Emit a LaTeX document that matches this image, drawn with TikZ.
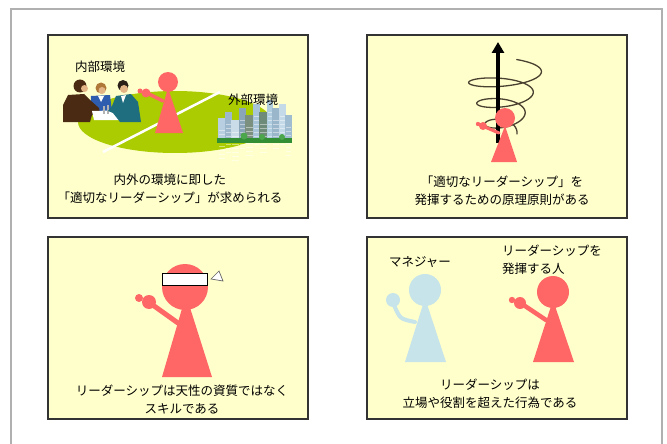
\documentclass[tikz,border=0pt]{standalone}
\usepackage{fontspec}
\setmainfont{Noto Sans CJK JP}
\usetikzlibrary{arrows.meta}

\definecolor{panelbg}{HTML}{FFFFCC}
\definecolor{leader}{HTML}{FF6666}
\definecolor{mgr}{HTML}{C6E4EA}
\definecolor{field}{HTML}{AACC00}
\definecolor{framegray}{HTML}{B0B0B0}
\definecolor{suitbrown}{HTML}{4A2A12}
\definecolor{suitblue}{HTML}{2E5DB0}
\definecolor{suitteal}{HTML}{1E6E80}
\definecolor{skin}{HTML}{E2B486}
\definecolor{hairgold}{HTML}{B07838}
\definecolor{hairdark}{HTML}{2A2018}
\definecolor{spiralc}{HTML}{4A4030}

\tikzset{
  panel/.style={fill=panelbg, draw=black!80, line width=1.1pt},
  txt/.style={inner sep=0pt, font=\fontsize{12.5}{18}\selectfont, align=center},
  lbl/.style={inner sep=0pt, font=\fontsize{12.5}{18}\selectfont},
  arm/.style={line width=#1, line cap=round},
}

\begin{document}
\begin{tikzpicture}[x=1pt, y=-1pt]
\useasboundingbox (0,0) rectangle (667,444);
\fill[white] (0,0) rectangle (667,444);

% outer frame (open at the bottom)
\draw[framegray, line width=1.2pt] (11,444) -- (11,9) -- (662,9) -- (662,444);

% four panels
\draw[panel] (48,35) rectangle (308,218);
\draw[panel] (367,35) rectangle (627,218);
\draw[panel] (48,237) rectangle (308,419);
\draw[panel] (367,237) rectangle (627,419);

% ---------- panel 1: inner and outer environment ----------
\fill[field] (175,122) ellipse [x radius=97, y radius=31];
\draw[white, line width=2.5pt] (103,152) -- (220,92);

% meeting people: woman behind, table, two men
\fill[suitblue] (91,96) -- (110,95) -- (112,112) -- (90,112) -- cycle;
\fill[white] (98,96) -- (104,96) -- (101,102) -- cycle;
\fill[hairgold] (101,88) circle (5.5);
\fill[skin] (102,90.5) circle (3.5);
\fill[suitbrown] (68,95) -- (84,94) -- (90,100) -- (99,108) -- (100,114)
  -- (92,115) -- (90,122) -- (63,122) -- (63,105) -- cycle;
\fill[suitbrown] (80,86) circle (6.5);
\fill[skin] (84.5,88.5) circle (3.5);
\fill[white] (92,111) -- (131,110) -- (132,120) -- (94,120) -- cycle;
\fill[gray!60] (103,106) rectangle (105,114);
\fill[gray!60] (107,105) rectangle (109,114);
\fill[suitteal] (116,96) -- (131,94) -- (138,102) -- (141,122) -- (120,122)
  -- (113,113) -- (108,111) -- (112,106) -- cycle;
\fill[white] (121,96) -- (126,95) -- (123,103) -- cycle;
\fill[hairdark] (123,85.5) circle (5.5);
\fill[skin] (124,89) circle (4);

% city buildings
\foreach \xa/\ya/\xb/\col in {
    218/118/226/B7CFE0, 225/112/232/9DB8CC, 231/120/240/C9DCE8,
    239/108/246/8AA5B8, 245/115/254/7C9080, 253/104/260/A8C4D8,
    259/112/268/6E8A78, 267/100/273/B0CDE0, 272/108/280/9AB6CA,
    279/104/286/C4DAE8, 285/115/292/A0BCD0} {
  \definecolor{bld}{HTML}{\col}
  \fill[bld] (\xa,\ya) rectangle (\xb,143);
  \foreach \wy in {3,...,10} {
    \draw[white, opacity=0.45, line width=0.6pt] (\xa+1,\ya+\wy*4) -- (\xb-1,\ya+\wy*4);
  }
}
\fill[green!45!black!80] (217,138) rectangle (292,143);
\fill[green!50!black!70] (244,136) circle (3.5);
\fill[green!50!black!70] (262,137) circle (3);
\fill[green!50!black!70] (282,137) circle (3);

% leader figure
\fill[leader] (168,88) -- (183,133) -- (155,133) -- cycle;
\fill[leader] (168,82) circle (10);
\draw[leader, arm=3.5pt] (163,101) -- (147,93);
\fill[leader] (146,93) circle (4.5);
\fill[leader] (140,91) circle (2.5);

\node[lbl] (inner) at (100,67) {内部環境};
\node[lbl] (outer) at (253,100) {外部環境};
\node[txt] (cap1) at (170,189) {内外の環境に即した\\「適切なリーダーシップ」が求められる};

% ---------- panel 2: principles ----------
\draw[spiralc, line width=1.3pt, line cap=round]
  plot[smooth, domain=0:1150, samples=260]
  ({503 + (14 + 26*(\x/1150))*cos(\x)}, {134 - 66*(\x/1150) - 9*sin(\x)});
\draw[line width=3.6pt, -{Triangle[length=11pt, width=12pt]}] (498,143) -- (498,42);
\fill[leader] (505,126) -- (517,162) -- (491,162) -- cycle;
\fill[leader] (505,118) circle (10);
\draw[line width=2pt] (498,128) -- (498,142);
\draw[leader, arm=3.2pt] (499,133) -- (485,127);
\fill[leader] (483,126) circle (4);
\fill[leader] (478,124) circle (2.2);

\node[txt] (cap2) at (502,191) {「適切なリーダーシップ」を\\発揮するための原理原則がある};

% ---------- panel 3: skill ----------
\fill[leader] (186,295) -- (212,377) -- (162,377) -- cycle;
\fill[leader] (185,287) circle (23);
\draw[leader, arm=5pt] (178,323) -- (150,303);
\fill[leader] (149,302) circle (7);
\fill[leader] (139,298) circle (4);
\filldraw[fill=white, draw=black, line width=0.8pt] (162,273) rectangle (207,285);
\filldraw[fill=white, draw=black!60, line width=0.7pt] (211,279) -- (219,271) -- (223,281) -- cycle;

\node[txt] (cap3) at (182,400) {リーダーシップは天性の資質ではなく\\スキルである};

% ---------- panel 4: manager and leader ----------
\fill[mgr] (425,298) -- (446,362) -- (405,362) -- cycle;
\fill[mgr] (425,290) circle (16);
\draw[mgr, arm=4pt] (415,322) .. controls (400,319) .. (394,305);
\fill[mgr] (393,300) circle (7);

\fill[leader] (553,300) -- (574,362) -- (533,362) -- cycle;
\fill[leader] (553,292) circle (16);
\draw[leader, arm=4.5pt] (546,320) -- (522,304);
\fill[leader] (520,303) circle (6);
\fill[leader] (512,300) circle (3.2);

\node[lbl] (mgrlbl) at (420,262) {マネジャー};
\node[lbl, align=left, anchor=west] (ldrlbl) at (502,260) {リーダーシップを\\発揮する人};
\node[txt] (cap4) at (490,394) {リーダーシップは\\立場や役割を超えた行為である};
\end{tikzpicture}
\end{document}
